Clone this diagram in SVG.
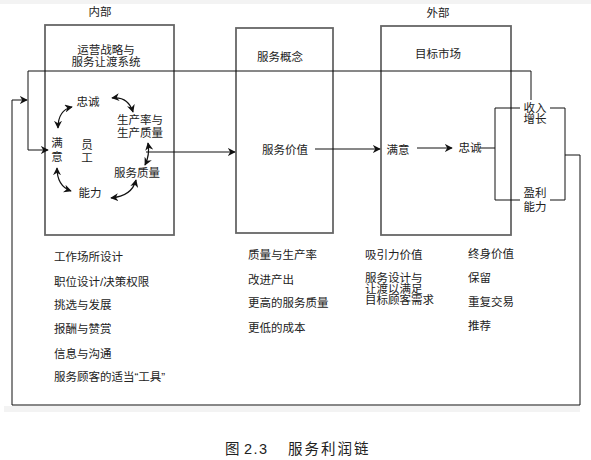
<svg xmlns="http://www.w3.org/2000/svg" width="591" height="460" viewBox="0 0 591 460">
<style>
text{font-family:"Liberation Sans","Noto Sans CJK SC",sans-serif;font-size:11.5px;fill:#222}
.c{text-anchor:middle}
.cap{font-size:14.5px}
.box{fill:none;stroke:#666;stroke-width:1.8}
.ln{fill:none;stroke:#111;stroke-width:1}
.cv{fill:none;stroke:#111;stroke-width:1.2;marker-start:url(#ah);marker-end:url(#ah)}
</style>
<defs>
<marker id="ah" viewBox="0 0 10 10" refX="9" refY="5" markerWidth="8" markerHeight="8" markerUnits="userSpaceOnUse" orient="auto-start-reverse">
<path d="M0,0 L10,5 L0,10 L3,5 z" fill="#111"/>
</marker>
</defs>
<rect width="591" height="460" fill="#fff"/>
<rect x="0" y="0" width="591" height="4" fill="#f3f3f3"/>
<rect x="4" y="406" width="576" height="6" fill="#f3f3f3"/>

<text class="c" x="100" y="16">内部</text>
<text class="c" x="438" y="17">外部</text>

<g id="internal">
<rect class="box" x="45" y="25" width="129" height="210"/>
<text class="c" x="106" y="54">运营战略与</text>
<text class="c" x="106" y="66">服务让渡系统</text>
<text class="c" x="88" y="106">忠诚</text>
<text class="c" x="140" y="124">生产率与</text>
<text class="c" x="140" y="137">生产质量</text>
<text class="c" x="57" y="147">满</text>
<text class="c" x="57" y="161">意</text>
<text class="c" x="87" y="149">员</text>
<text class="c" x="87" y="162">工</text>
<text class="c" x="137" y="177">服务质量</text>
<text class="c" x="90" y="197">能力</text>
</g>

<g id="concept">
<rect class="box" x="236" y="28" width="97" height="205"/>
<text class="c" x="280" y="61">服务概念</text>
<text class="c" x="285" y="154">服务价值</text>
</g>

<g id="market">
<rect class="box" x="381" y="26" width="130" height="209"/>
<text class="c" x="438" y="58">目标市场</text>
<text class="c" x="398" y="154">满意</text>
<text class="c" x="470" y="152">忠诚</text>
</g>

<g id="revenue">
<text class="c" x="535" y="112">收入</text>
<text class="c" x="535" y="123">增长</text>
</g>
<g id="profit">
<text class="c" x="535" y="197">盈利</text>
<text class="c" x="535" y="211">能力</text>
</g>

<g id="connectors">
<path class="cv" d="M72,107 Q58,110 58,128"/>
<path class="cv" d="M112,98 Q128,96 133,112"/>
<path class="cv" d="M148,143 Q150,155 145,165"/>
<path class="cv" d="M136,180 Q132,196 111,198"/>
<path class="cv" d="M71,191 Q57,186 57,168"/>
<path class="ln" d="M146,152 H235" stroke-width="1.6" marker-end="url(#ah)"/>
<path class="ln" d="M315,149 H380" marker-end="url(#ah)"/>
<path class="ln" d="M417,148 H452" marker-end="url(#ah)"/>
<path class="ln" d="M480,148 H495"/>
<path class="ln" d="M495,108 V200 M495,108 H520 M550,108 H565 M495,200 H520 M550,200 H565 M565,108 V200"/>
<path class="ln" d="M565,155 H580 V405 H12 V100 H27" marker-end="url(#ah)"/>
<path class="ln" d="M531,100 V71 H28 V150 H48" marker-end="url(#ah)"/>
</g>

<text x="54" y="261">工作场所设计</text>
<text x="54" y="286">职位设计/决策权限</text>
<text x="54" y="309">挑选与发展</text>
<text x="54" y="333">报酬与赞赏</text>
<text x="54" y="358">信息与沟通</text>
<text x="54" y="381">服务顾客的适当“工具”</text>

<text x="248" y="259">质量与生产率</text>
<text x="248" y="284">改进产出</text>
<text x="248" y="307">更高的服务质量</text>
<text x="248" y="332">更低的成本</text>

<text x="365" y="259">吸引力价值</text>
<text x="365" y="282">服务设计与</text>
<text x="365" y="293">让渡以满足</text>
<text x="365" y="304">目标顾客需求</text>

<text x="468" y="258">终身价值</text>
<text x="468" y="282">保留</text>
<text x="468" y="306">重复交易</text>
<text x="468" y="330">推荐</text>

<text class="cap" x="225" y="454">图</text>
<text class="cap" x="244" y="454" style="letter-spacing:1.5px">2.3</text>
<text class="cap" x="288" y="454" style="letter-spacing:2px">服务利润链</text>
</svg>
